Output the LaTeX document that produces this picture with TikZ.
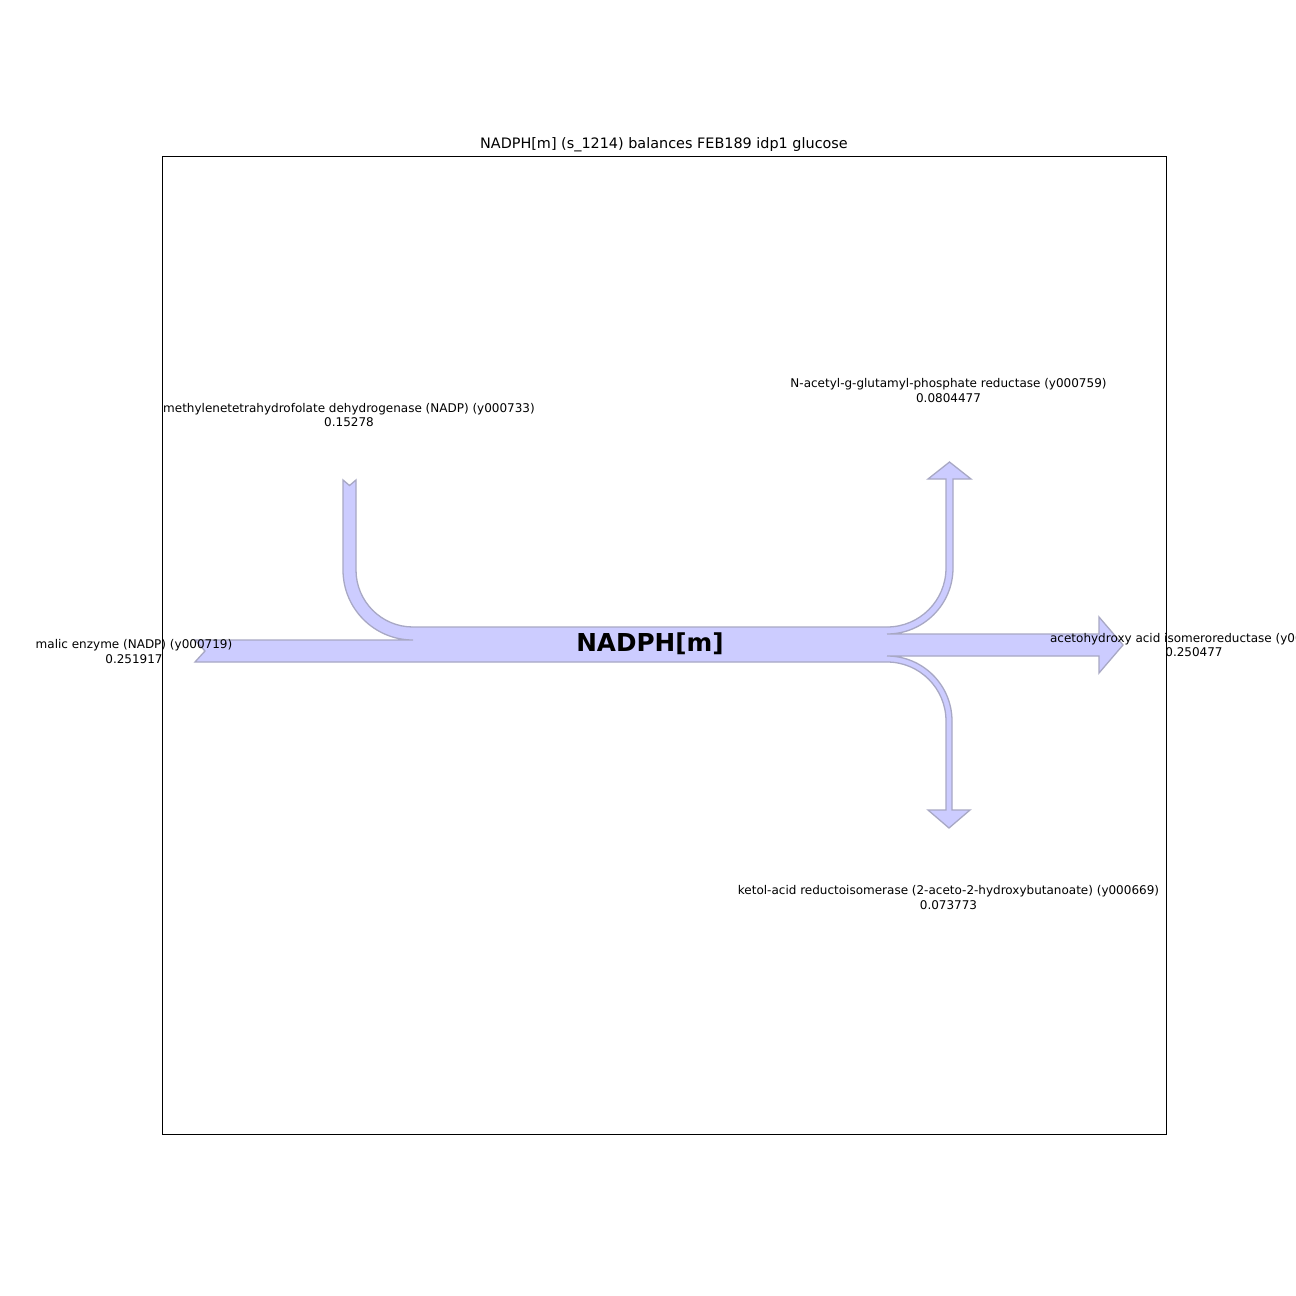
\documentclass[tikz,border=0pt]{standalone}
\usepackage{fontspec}
\setmainfont{DejaVu Sans}
\definecolor{flowfill}{RGB}{204,204,255}
\definecolor{flowedge}{RGB}{168,168,196}
\begin{document}
\begin{tikzpicture}[x=1pt,y=-1pt,
  lbl/.style={align=center,inner sep=0pt,font=\fontsize{12}{14.8}\selectfont},
  flow/.style={fill=flowfill,draw=flowedge,line width=1.3pt,line join=miter}]
\clip (0,0) rectangle (1296,1296);
\fill[white] (0,0) rectangle (1296,1296);
% sankey shape
\draw[flow] (413,627) -- (887,627)
  arc[start angle=90,end angle=0,radius=59]
  -- (946,479) -- (928,479) -- (949.5,462) -- (971,479) -- (953,479) -- (953,568)
  arc[start angle=0,end angle=90,radius=66]
  -- (1099,634) -- (1099,617) -- (1123,645) -- (1099,673) -- (1099,656) -- (887,656)
  arc[start angle=-90,end angle=0,radius=65]
  -- (952,810) -- (970,810) -- (949,828) -- (928,810) -- (946,810) -- (946,721)
  arc[start angle=0,end angle=-90,radius=59]
  -- (195,662) -- (205,651) -- (195,640) -- (413,640)
  arc[start angle=90,end angle=180,radius=70]
  -- (343,480) -- (349.5,485.5) -- (356,480) -- (356,570)
  arc[start angle=180,end angle=90,radius=57]
  -- cycle;
% axes frame
\draw[black,line width=0.8pt] (162,156) rectangle (1166,1134);
% title
\node[inner sep=0pt,font=\fontsize{14.4}{17}\selectfont] (title) at (664,145) {NADPH[m] (s\_1214) balances FEB189 idp1 glucose};
% center
\node[inner sep=0pt,font=\fontsize{24.7}{28}\selectfont\bfseries] (center) at (650,644) {NADPH[m]};
% labels
\node[lbl] (mthfd) at (349,415) {methylenetetrahydrofolate dehydrogenase (NADP) (y000733)\\0.15278};
\node[lbl] (nag) at (948.5,390.5) {N-acetyl-g-glutamyl-phosphate reductase (y000759)\\0.0804477};
\node[lbl] (malic) at (134,651.5) {malic enzyme (NADP) (y000719)\\0.251917};
\node[lbl] (aha) at (1194,645) {acetohydroxy acid isomeroreductase (y000858)\\0.250477};
\node[lbl] (kari) at (948.5,897.5) {ketol-acid reductoisomerase (2-aceto-2-hydroxybutanoate) (y000669)\\0.073773};
\end{tikzpicture}
\end{document}
